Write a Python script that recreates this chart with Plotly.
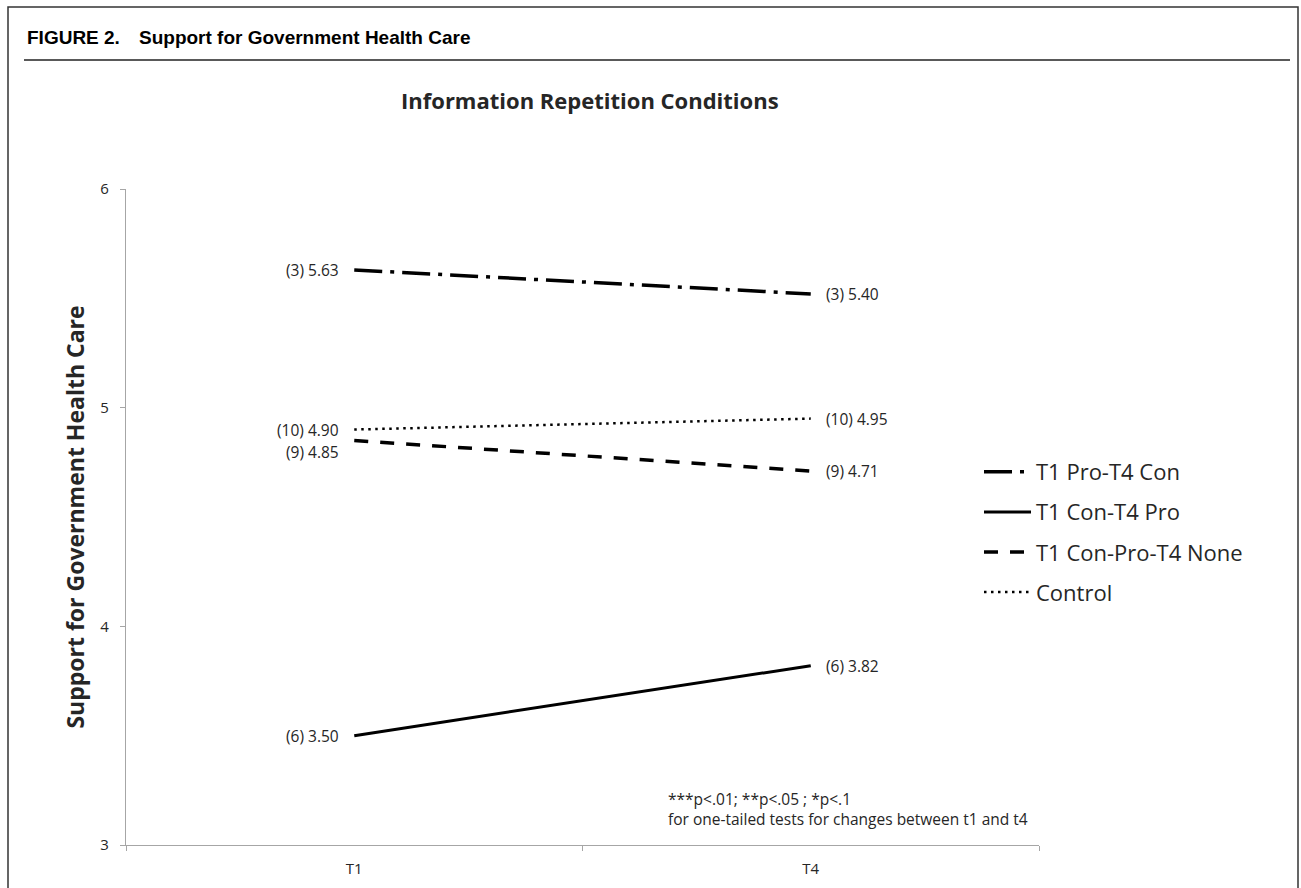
import plotly.graph_objects as go

# ---------------- data ----------------
categories = ["T1", "T4"]
series_names = ["T1 Pro-T4 Con", "T1 Con-T4 Pro", "T1 Con-Pro-T4 None", "Control"]
t1_values = [5.63, 3.50, 4.85, 4.90]
t4_values = [5.52, 3.82, 4.71, 4.95]
group_ns = [3, 6, 9, 10]
t1_label_values = ["5.63", "3.50", "4.85", "4.90"]
t4_label_values = ["5.40", "3.82", "4.71", "4.95"]
y_ticks = [3, 4, 5, 6]

# ---------------- layout geometry ----------------
W, H = 1301, 888
L, R, T, B = 126, 1039, 189, 845  # plot area in pixels


def px_x(px):
    return (px - L) / (R - L)


def px_y(py):
    return (B - py) / (B - T)


dashes = ["28px,8px,4px,8px", "solid", "14px,12px", "2.5px,4.5px"]
widths = [3.5, 3, 3.5, 2.5]
label_yshift_t1 = [0, 0, -12, 0]
label_yshift_t4 = [0, 0, 0, 0]

FONT = "Open Sans"
TXT = "#262626"

fig = go.Figure()
xs = list(range(len(categories)))
for i, name in enumerate(series_names):
    fig.add_trace(go.Scatter(
        x=xs, y=[t1_values[i], t4_values[i]], mode="lines", name=name,
        line=dict(color="black", width=widths[i], dash=dashes[i]),
        legendgroup=name, showlegend=True, hoverinfo="skip",
    ))

annotations = []
for i in range(len(series_names)):
    annotations.append(dict(
        x=0, y=t1_values[i], xref="x", yref="y", showarrow=False,
        text=f"({group_ns[i]}) {t1_label_values[i]}", xanchor="right", yanchor="middle",
        xshift=-13, yshift=label_yshift_t1[i], font=dict(family=FONT, size=15.5, color=TXT)))
    annotations.append(dict(
        x=1, y=t4_values[i], xref="x", yref="y", showarrow=False,
        text=f"({group_ns[i]}) {t4_label_values[i]}", xanchor="left", yanchor="middle",
        xshift=13, yshift=label_yshift_t4[i], font=dict(family=FONT, size=15.5, color=TXT)))

# heading
annotations.append(dict(x=px_x(25), y=px_y(38), xref="paper", yref="paper", showarrow=False,
                        text="<b>FIGURE 2.</b>", xanchor="left", yanchor="middle",
                        font=dict(family="Liberation Sans", size=19, color="black")))
annotations.append(dict(x=px_x(137), y=px_y(38), xref="paper", yref="paper", showarrow=False,
                        text="<b>Support for Government Health Care</b>", xanchor="left", yanchor="middle",
                        font=dict(family="Liberation Sans", size=19, color="black")))
# chart title
annotations.append(dict(x=px_x(590), y=px_y(100), xref="paper", yref="paper", showarrow=False,
                        text="<b>Information Repetition Conditions</b>", xanchor="center", yanchor="middle",
                        font=dict(family=FONT, size=22, color=TXT)))
# footnote
annotations.append(dict(x=px_x(666), y=px_y(809), xref="paper", yref="paper", showarrow=False,
                        text="***p<.01; **p<.05 ; *p<.1<br>for one-tailed tests for changes between t1 and t4",
                        xanchor="left", yanchor="middle", align="left",
                        font=dict(family=FONT, size=15.5, color=TXT)))

shapes = [
    # outer frame
    dict(type="rect", xref="paper", yref="paper", x0=px_x(8), x1=px_x(1298), y0=px_y(900), y1=px_y(7),
         line=dict(color="#333333", width=1.5), fillcolor="rgba(0,0,0,0)", layer="below"),
    # heading rule
    dict(type="line", xref="paper", yref="paper", x0=px_x(24), x1=px_x(1290), y0=px_y(60), y1=px_y(60),
         line=dict(color="#222222", width=1.5)),
]

fig.update_layout(
    width=W, height=H,
    margin=dict(l=L, r=W - R, t=T, b=H - B, autoexpand=False),
    paper_bgcolor="white", plot_bgcolor="white",
    showlegend=True,
    legend=dict(xref="container", yref="container", x=979 / W, y=1 - 451 / H,
                xanchor="left", yanchor="top", tracegroupgap=8.5, itemwidth=47,
                font=dict(family=FONT, size=22, color=TXT), bgcolor="rgba(0,0,0,0)"),
    annotations=annotations, shapes=shapes,
    xaxis=dict(range=[-0.5, 1.5], tickvals=xs, ticktext=categories, ticks="",
               showline=True, linecolor="#a6a6a6", linewidth=1.3, showgrid=False, zeroline=False,
               ticklabelstandoff=10,
               tickfont=dict(family=FONT, size=15, color=TXT),
               minor=dict(tickvals=[-0.5, 0.5, 1.5], ticks="outside", ticklen=5,
                          tickcolor="#a6a6a6", tickwidth=1.3, showgrid=False)),
    yaxis=dict(range=[3, 6], tickvals=y_ticks, ticks="outside", ticklen=5, tickcolor="#a6a6a6",
               tickwidth=1.3, showline=True, linecolor="#a6a6a6", linewidth=1.3, showgrid=False,
               zeroline=False, ticklabelstandoff=8,
               tickfont=dict(family=FONT, size=15, color=TXT),
               title=dict(text="<b>Support for Government Health Care</b>", standoff=9,
                          font=dict(family=FONT, size=23, color=TXT))),
)

fig.write_html("out.html")
